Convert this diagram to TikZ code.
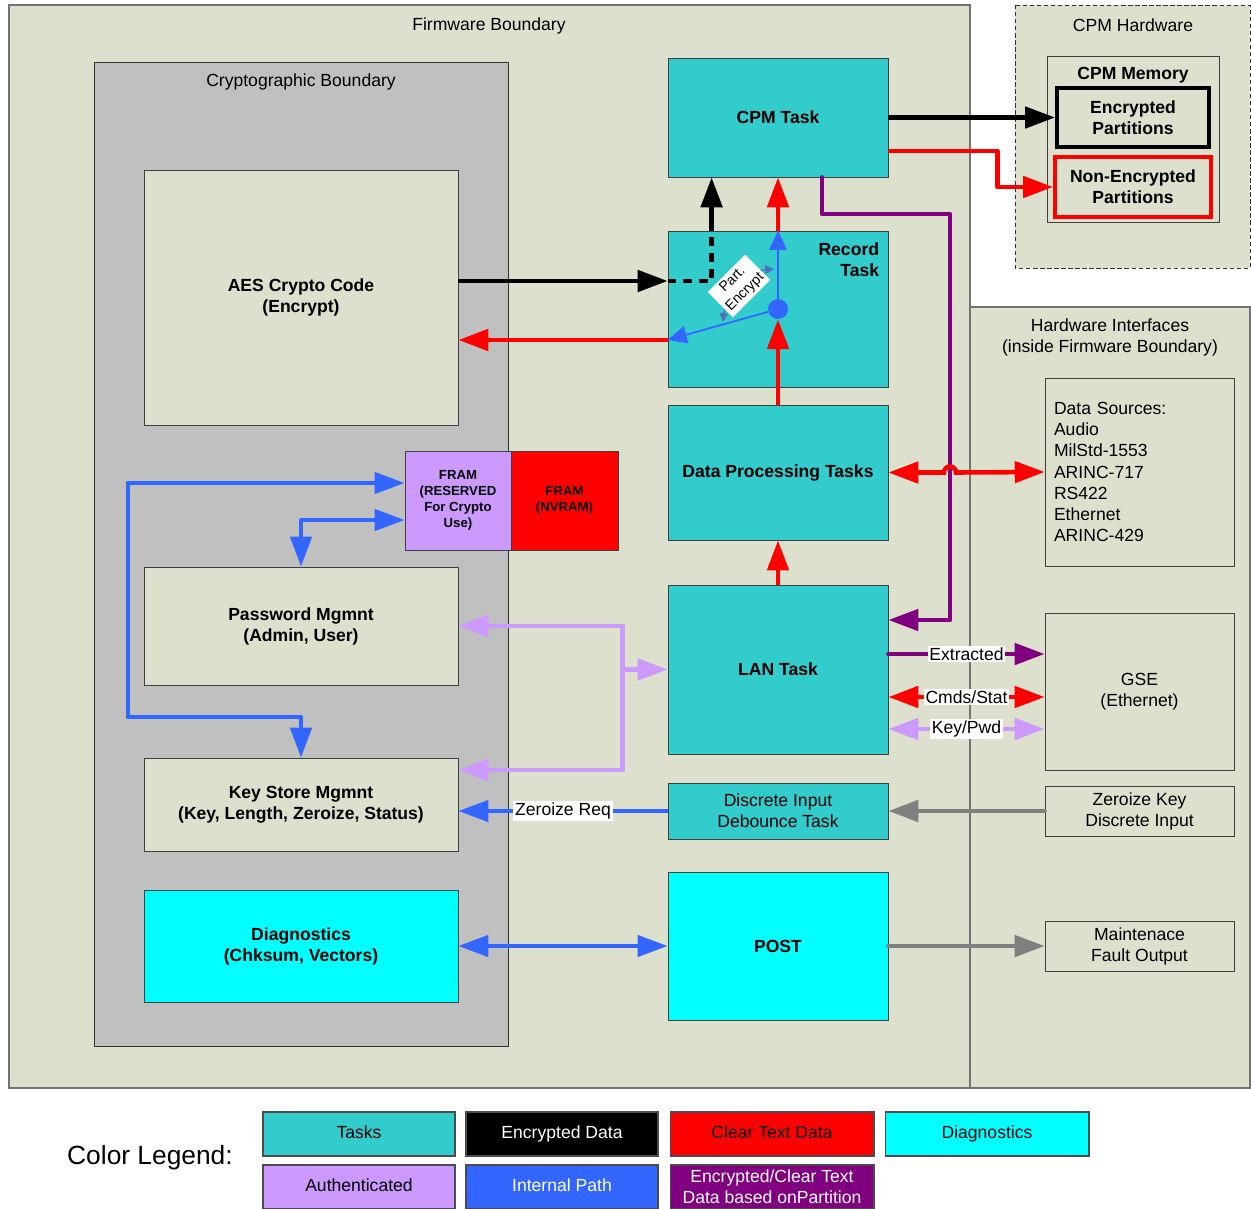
\documentclass[tikz,border=0pt]{standalone}
\usepackage{fontspec}
\setmainfont{Liberation Sans}
\usetikzlibrary{arrows.meta,calc}

\definecolor{khaki}{RGB}{221,224,204}
\definecolor{cryptgray}{RGB}{192,192,192}
\definecolor{taskteal}{RGB}{51,204,204}
\definecolor{diagcyan}{RGB}{0,255,255}
\definecolor{authlav}{RGB}{204,153,255}
\definecolor{intblue}{RGB}{51,102,255}
\definecolor{partpurple}{RGB}{128,0,128}
\definecolor{outgray}{RGB}{128,128,128}
\definecolor{arcblue}{RGB}{79,113,190}

\begin{document}
\begin{tikzpicture}[x=0.02cm,y=-0.02cm,
  every node/.style={font=\fontsize{10}{12}\selectfont},
  region/.style={draw=black!55,fill=khaki,line width=0.6pt},
  blk/.style={draw=black!75,fill=khaki,line width=0.5pt,inner sep=0pt,align=center},
  task/.style={blk,fill=taskteal},
  bold/.style={font=\fontsize{10}{12}\selectfont\bfseries},
  small/.style={font=\fontsize{7.5}{9}\selectfont\bfseries},
  big/.style={-{Triangle[length=17pt,width=12pt]}},
  bigs/.style={{Triangle[length=17pt,width=12pt]}-{Triangle[length=17pt,width=12pt]}},
  enc/.style={line width=2.6pt,draw=black},
  clr/.style={line width=2.6pt,draw=red},
  auth/.style={line width=2.6pt,draw=authlav},
  intp/.style={line width=2.3pt,draw=intblue,line join=round},
  part/.style={line width=2.6pt,draw=partpurple,line join=round,line cap=round},
  outp/.style={line width=2.6pt,draw=outgray,line cap=round},
  thinb/.style={line width=1pt,draw=intblue,-{Triangle[length=11pt,width=10pt]}},
  tag/.style={fill=white,inner sep=1pt},
  legbox/.style={draw=black!70,line width=0.6pt,minimum height=0.88cm,inner sep=0pt,align=center},
  legone/.style={legbox,text height=7.2pt,text depth=2pt}
]
\useasboundingbox (0,0) rectangle (1251,1208);
\fill[white] (0,0) rectangle (1251,1208);

\draw[region] (9,5) rectangle (970,1088);
\node (fwtitle) at (489,26) {Firmware Boundary};
\draw[region,fill=cryptgray,draw=black!80,line width=0.5pt] (94,62) rectangle (508,1046);
\node (crtitle) at (301,82) {Cryptographic Boundary};
\draw[region,draw=black!80,line width=0.5pt,dash pattern=on 2.5pt off 1.5pt] (1015,5) rectangle (1250,268);
\node (hwtitle) at (1133,25) {CPM Hardware};
\draw[region] (970,307) rectangle (1250,1088);
\node[align=center] (hititle) at (1110,337) {Hardware Interfaces\\(inside Firmware Boundary)};

\node[blk,bold,minimum width=6.28cm,minimum height=5.1cm] (aes) at (301,297.5) {AES Crypto Code\\(Encrypt)};
\node[blk,small,fill=authlav,minimum width=2.12cm,minimum height=1.98cm] (framr) at (458,500.5) {FRAM\\(RESERVED\\For Crypto\\Use)};
\node[blk,small,fill=red,minimum width=2.14cm,minimum height=1.98cm] (framn) at (564.5,500.5) {FRAM\\(NVRAM)};
\node[blk,bold,minimum width=6.28cm,minimum height=2.36cm] (pwd) at (301,626) {Password Mgmnt\\(Admin, User)};
\node[blk,bold,minimum width=6.28cm,minimum height=1.86cm] (keys) at (301,804.5) {Key Store Mgmnt\\(Key, Length, Zeroize, Status)};
\node[blk,bold,fill=diagcyan,minimum width=6.28cm,minimum height=2.24cm] (diag) at (301,946) {Diagnostics\\(Chksum, Vectors)};

\node[task,bold,minimum width=4.4cm,minimum height=2.38cm] (cpm) at (778,117.5) {CPM Task};
\node[task,minimum width=4.4cm,minimum height=3.12cm] (rec) at (778,309) {};
\node[bold,align=right,anchor=north east,inner sep=0pt] (rectxt) at ($(rec.north east)+(-9,12)$) {Record\\Task};
\node[task,bold,minimum width=4.4cm,minimum height=2.7cm] (dp) at (778,472.5) {Data Processing Tasks};
\node[task,bold,minimum width=4.4cm,minimum height=3.38cm] (lan) at (778,669.5) {LAN Task};
\node[task,minimum width=4.4cm,minimum height=1.12cm] (deb) at (778,811) {Discrete Input\\Debounce Task};
\node[task,bold,fill=diagcyan,minimum width=4.4cm,minimum height=2.96cm] (post) at (778,946) {POST};

\node[blk,minimum width=3.44cm,minimum height=3.32cm] (mem) at (1133,139) {};
\node[bold] (memtitle) at (1133,75) {CPM Memory};
\node[blk,bold,draw=black,line width=2.3pt,minimum width=3.04cm,minimum height=1.18cm] (encp) at (1133,117.5) {Encrypted\\Partitions};
\node[blk,bold,draw=red,line width=2.3pt,minimum width=3.12cm,minimum height=1.2cm] (nencp) at (1133,187) {Non-Encrypted\\Partitions};

\node[blk,minimum width=3.78cm,minimum height=3.76cm,text width=3.42cm,align=left] (src) at (1139.5,472) {Data Sources:\\Audio\\MilStd-1553\\ARINC-717\\RS422\\Ethernet\\ARINC-429};
\node[blk,minimum width=3.78cm,minimum height=3.14cm] (gse) at (1139.5,691.5) {GSE\\(Ethernet)};
\node[blk,minimum width=3.78cm,minimum height=1cm] (zk) at (1139.5,811) {Zeroize Key\\Discrete Input};
\node[blk,minimum width=3.78cm,minimum height=1cm] (mnt) at (1139.5,946) {Maintenace\\Fault Output};

\coordinate (al) at ($(aes.east)+(0,-16.5)$);
\coordinate (dx) at ($(rec.north west)+(44,0)$);
\coordinate (rl) at ($(rec.west)+(0,31)$);
\coordinate (pp) at ($(cpm.south)+(44,0)$);
\coordinate (pb1) at (950,214);
\coordinate (pb2) at (950,620);
\coordinate (cr) at ($(cpm.east)+(0,33.5)$);
\coordinate (lv) at ($(lan.west)+(-45,0)$);
\coordinate (kl) at ($(keys.east)+(0,-34.5)$);
\coordinate (fu) at ($(framr.west)+(0,-17.5)$);
\coordinate (fl) at ($(framr.west)+(0,19.5)$);
\coordinate (ex) at ($(lan.east)+(0,-15.5)$);
\coordinate (cs) at ($(lan.east)+(0,27.5)$);
\coordinate (kp) at ($(lan.east)+(0,59.5)$);

\draw[enc,big] (al) -- (al -| rec.west);
\draw[enc,dash pattern=on 5pt off 4pt] (al -| rec.west) -- (dx |- al) -- (dx);
\draw[enc,big] (dx) -- (dx |- cpm.south);
\draw[clr,big] (rl) -- (rl -| aes.east);

\node[circle,fill=intblue,minimum size=0.4cm,inner sep=0pt] (dot) at (778,309) {};
\draw[line width=0.8pt,arcblue,{Triangle[length=5pt,width=5pt]}-{Triangle[length=5pt,width=5pt]}] ($(dot)+(-55,13)$) .. controls ($(dot)+(-52,-15)$) and ($(dot)+(-30,-38)$) .. ($(dot)+(-4,-40)$);
\node[tag,rotate=45,align=center,inner sep=1.5pt,font=\fontsize{8}{10}\selectfont] (pelbl) at (739,286) {Part.\\Encrypt};
\draw[clr,big] (dp.north) -- (dot.south);
\draw[thinb] (dot.north) -- (rec.north);
\draw[thinb] (dot) -- (rl);
\draw[clr,big] (rec.north) -- (cpm.south);

\draw[enc,big] (cpm.east) -- (encp.west);
\draw[clr,big,line join=round] (cr) -- ++(109,0) |- (nencp.west);
\draw[part,big] (pp) |- (pb1) -- (pb2) -- (pb2 -| lan.east);
\draw[clr,bigs] (dp.east) -- ($(pb1 |- dp.east)+(-6,0)$) arc[start angle=180,end angle=0,radius=0.12cm] -- (src.west);
\draw[clr,big] (lan.north) -- (dp.south);

\draw[auth,bigs,line join=round] (pwd.east) -| (lv |- kl) -- (kl);
\draw[auth,big] (lv) -- (lan.west);
\draw[intp,bigs] (fu) -- ++(-277,0) |- ($(keys.north)+(0,-41)$) -- (keys.north);
\draw[intp,bigs] (fl) -| (pwd.north);
\draw[intp,big] (deb.west) -- (deb.west -| keys.east) node[midway,tag] {Zeroize Req};
\draw[intp,bigs] (diag.east) -- (post.west);

\draw[outp,big] (post.east) -- (mnt.west);
\draw[outp,big] (zk.west) -- (deb.east);
\draw[part,big] (ex) -- (ex -| gse.west) node[midway,tag] {Extracted};
\draw[clr,bigs] (cs) -- (cs -| gse.west) node[midway,tag] {Cmds/Stat};
\draw[auth,bigs] (kp) -- (kp -| gse.west) node[midway,tag] {Key/Pwd};

\node[font=\fontsize{15}{18}\selectfont] (legtitle) at (150,1158) {Color Legend:};
\node[legone,fill=taskteal,minimum width=3.84cm] (lgtask) at (359,1134) {Tasks};
\node[legone,fill=black,text=white,minimum width=3.84cm] (lgenc) at (562,1134) {Encrypted Data};
\node[legone,fill=red,minimum width=4.08cm] (lgclr) at (772,1134) {Clear Text Data};
\node[legone,fill=diagcyan,minimum width=4.08cm] (lgdiag) at (987,1134) {Diagnostics};
\node[legone,fill=authlav,minimum width=3.84cm] (lgauth) at (359,1187) {Authenticated};
\node[legone,fill=intblue,text=white,minimum width=3.84cm] (lgint) at (562,1187) {Internal Path};
\node[legbox,fill=partpurple,text=white,minimum width=4.08cm] (lgpart) at (772,1187) {Encrypted/Clear Text\\Data based onPartition};
\end{tikzpicture}
\end{document}
